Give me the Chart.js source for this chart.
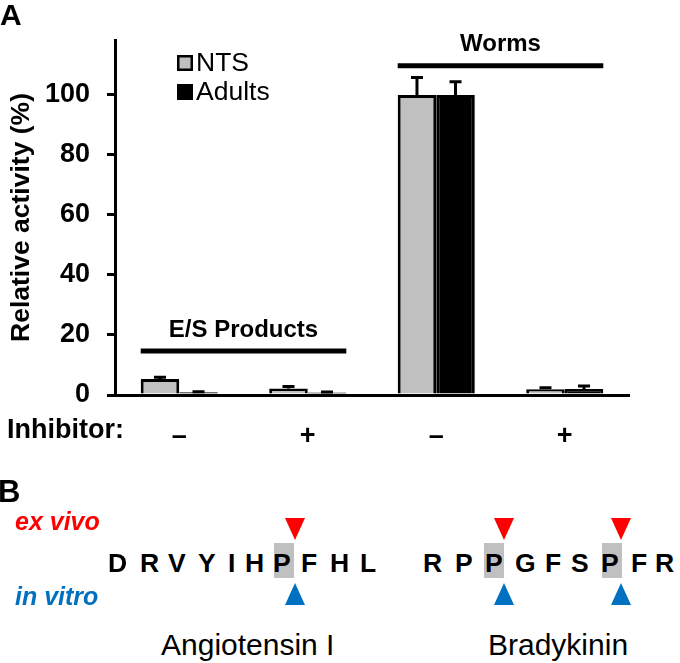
<!DOCTYPE html>
<html>
<head>
<meta charset="utf-8">
<script src="https://cdn.jsdelivr.net/npm/chart.js@4/dist/chart.umd.min.js"></script>
<style>
html, body { margin: 0; padding: 0; background: #fff; }
#page { position: relative; width: 680px; height: 663px; overflow: hidden; font-family: 'Liberation Sans', Arial, sans-serif; }
#panelA { position: absolute; left: 0; top: 0; }
.t { position: absolute; line-height: 1; white-space: nowrap; color: #000; }
.box { position: absolute; background: #c0c0c0; }
.tri-down { position: absolute; width: 0; height: 0; border-left: 10px solid transparent; border-right: 10px solid transparent; border-top: 22px solid #ff0000; }
.tri-up { position: absolute; width: 0; height: 0; border-left: 10px solid transparent; border-right: 10px solid transparent; border-bottom: 22px solid #0070c0; }
</style>
</head>
<body>
<div id="page">
  <canvas id="panelA" width="680" height="450"></canvas>
</div>
<script>
// panel A data
const categories = ['–', '+', '–', '+'];
const seriesNames = ['NTS', 'Adults'];
const ntsValues = [5.3, 2.2, 100, 1.9];
const ntsErrors = [0.6, 0.6, 5.8, 0.5];
const adultValues = [0.9, 0.8, 100, 2.0];
const adultErrors = [0.2, 0.2, 4.4, 1.0];
const yTicks = [0, 20, 40, 60, 80, 100];
const groupLabels = ['E/S Products', 'Worms'];
const groupRanges = [[0, 1], [2, 3]];
const groupLevels = [14.7, 109.7];

// panel B text
const angiotensin = ['D', 'R', 'V', 'Y', 'I', 'H', 'P', 'F', 'H', 'L'];
const bradykinin = ['R', 'P', 'P', 'G', 'F', 'S', 'P', 'F', 'R'];

const FONT = "'Liberation Sans', Arial, sans-serif";
const errors = [ntsErrors, adultErrors];

const errorBarPlugin = {
    id: 'errorBars',
    afterDatasetsDraw(chart) {
        const ctx = chart.ctx;
        const y = chart.scales.y;
        ctx.save();
        ctx.strokeStyle = '#000';
        ctx.lineWidth = 3;
        chart.data.datasets.forEach((ds, d) => {
            chart.getDatasetMeta(d).data.forEach((bar, i) => {
                const top = y.getPixelForValue(ds.data[i] + errors[d][i]);
                ctx.beginPath();
                ctx.moveTo(bar.x, bar.y);
                ctx.lineTo(bar.x, top);
                ctx.moveTo(bar.x - 6, top);
                ctx.lineTo(bar.x + 6, top);
                ctx.stroke();
            });
        });
        ctx.restore();
    }
};

const annotationPlugin = {
    id: 'annotations',
    afterDraw(chart) {
        const ctx = chart.ctx;
        const y = chart.scales.y;
        const first = chart.getDatasetMeta(0).data;
        const last = chart.getDatasetMeta(1).data;
        ctx.save();
        ctx.fillStyle = '#000';
        ctx.strokeStyle = '#000';

        // group brackets
        groupLabels.forEach((label, g) => {
            const a = first[groupRanges[g][0]];
            const b = last[groupRanges[g][1]];
            const x0 = a.x - a.width / 2;
            const x1 = b.x + b.width / 2;
            const ly = y.getPixelForValue(groupLevels[g]);
            ctx.lineWidth = 5;
            ctx.beginPath();
            ctx.moveTo(x0, ly);
            ctx.lineTo(x1, ly);
            ctx.stroke();
            ctx.font = 'bold 24px ' + FONT;
            ctx.textAlign = 'center';
            ctx.textBaseline = 'middle';
            ctx.fillText(label, (x0 + x1) / 2, ly - 21);
        });

        // legend
        const colors = chart.data.datasets.map(ds => ds.backgroundColor);
        ctx.font = '26.5px ' + FONT;
        ctx.textAlign = 'left';
        ctx.textBaseline = 'middle';
        seriesNames.forEach((name, k) => {
            const by = 55 + k * 29;
            ctx.fillStyle = colors[k];
            ctx.fillRect(177, by, 16, 16);
            ctx.lineWidth = 2.5;
            ctx.strokeRect(178.25, by + 1.25, 13.5, 13.5);
            ctx.fillStyle = '#000';
            ctx.fillText(name, 196, by + 9);
        });

        // row label for tick labels
        ctx.font = 'bold 27px ' + FONT;
        ctx.fillText('Inhibitor:', 7, chart.chartArea.bottom + 36);
        ctx.restore();
    }
};

new Chart(document.getElementById('panelA'), {
    type: 'bar',
    data: {
        labels: categories,
        datasets: [{
            label: seriesNames[0],
            data: ntsValues,
            backgroundColor: '#c0c0c0',
            borderColor: '#000',
            borderWidth: 3
        }, {
            label: seriesNames[1],
            data: adultValues,
            backgroundColor: '#000000',
            borderColor: '#000',
            borderWidth: 3
        }]
    },
    options: {
        responsive: false,
        animation: false,
        devicePixelRatio: 1,
        categoryPercentage: 0.6,
        barPercentage: 1.0,
        layout: { padding: { left: 0, right: 51, top: 40, bottom: 0 } },
        plugins: {
            legend: { display: false },
            tooltip: { enabled: false }
        },
        scales: {
            x: {
                grid: { display: false },
                border: { display: true, color: '#000', width: 3 },
                ticks: { color: '#000', font: { family: FONT, size: 27, weight: 'bold' }, padding: 17 },
                afterFit(scale) { scale.height = 55; }
            },
            y: {
                min: 0,
                max: 118.3,
                grid: { drawOnChartArea: false, drawTicks: true, tickLength: 8, color: '#000', lineWidth: 3 },
                border: { display: true, color: '#000', width: 3 },
                ticks: { color: '#000', font: { family: FONT, size: 27, weight: 'bold' }, padding: 17 },
                title: {
                    display: true,
                    text: 'Relative activity (%)',
                    color: '#000',
                    font: { family: FONT, size: 26.5, weight: 'bold' },
                    padding: { top: 6, bottom: 0 }
                },
                afterBuildTicks(scale) { scale.ticks = yTicks.map(v => ({ value: v })); },
                afterFit(scale) { scale.width = 115; }
            }
        }
    },
    plugins: [errorBarPlugin, annotationPlugin]
});

// panel B
const page = document.getElementById('page');
function addText(text, left, baseline, size, style) {
    const el = document.createElement('div');
    el.className = 't';
    el.textContent = text;
    el.style.cssText = 'left:' + left + 'px;top:' + (baseline - 0.8465 * size) + 'px;font-size:' + size + 'px;' + (style || '');
    page.appendChild(el);
}
function addShape(cls, left, top, w, h) {
    const el = document.createElement('div');
    el.className = cls;
    el.style.left = left + 'px';
    el.style.top = top + 'px';
    if (w) { el.style.width = w + 'px'; el.style.height = h + 'px'; }
    page.appendChild(el);
}

addText('A', 0, 25, 30, 'font-weight:bold;');
addText('B', -2, 502, 31, 'font-weight:bold;');
addText('ex vivo', 15, 530, 25, 'font-weight:bold;font-style:italic;color:#ff0000;');
addText('in vitro', 15, 605, 25, 'font-weight:bold;font-style:italic;color:#0070c0;');

[274, 484, 602].forEach(x => addShape('box', x, 543, 20, 35));
[295, 504, 621].forEach(cx => {
    addShape('tri-down', cx - 10, 518);
    addShape('tri-up', cx - 10, 583);
});

const angioX = [110, 142, 170, 200, 230, 247, 275, 303, 332, 362];
const bradyX = [425, 457, 487, 517, 547, 573, 603, 633, 657];
angiotensin.forEach((c, i) => addText(c, angioX[i] - 2, 572, 26.5, 'font-weight:bold;'));
bradykinin.forEach((c, i) => addText(c, bradyX[i] - 2, 572, 26.5, 'font-weight:bold;'));

addText('Angiotensin I', 161, 655, 30, '');
addText('Bradykinin', 488, 655, 30, '');
</script>
</body>
</html>
